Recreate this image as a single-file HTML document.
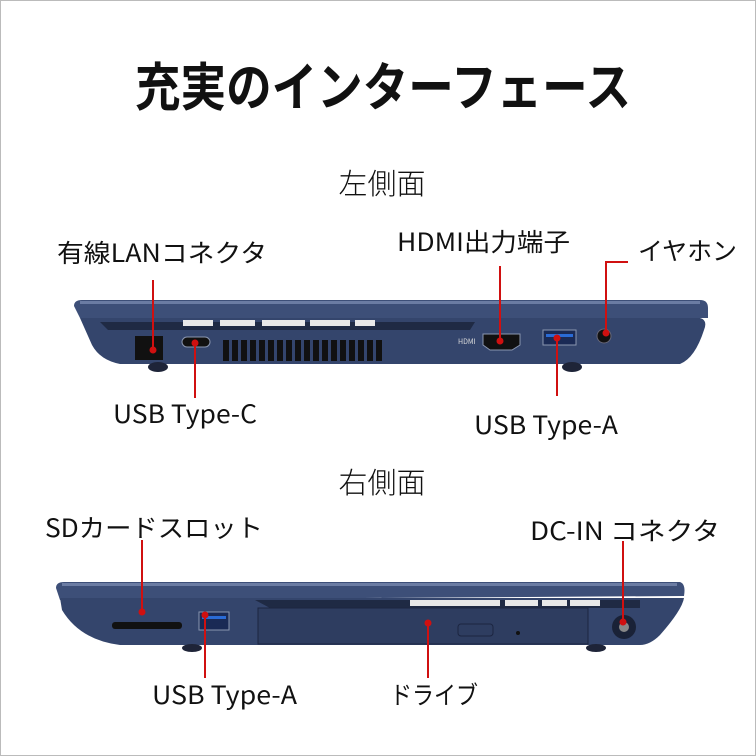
<!DOCTYPE html>
<html><head><meta charset="utf-8"><style>
html,body{margin:0;padding:0;background:#fff}
svg{display:block}
text{font-family:"Noto Sans CJK JP","Liberation Sans",sans-serif;fill:#111}
</style></head><body>
<svg width="756" height="756" viewBox="0 0 756 756" xmlns="http://www.w3.org/2000/svg">
<rect x="0.5" y="0.5" width="755" height="755" fill="#fff" stroke="#bbb"/>
<text x="383" y="106" font-size="52" font-weight="bold" text-anchor="middle" textLength="496" lengthAdjust="spacingAndGlyphs">充実のインターフェース</text>
<text x="382" y="194" font-size="29" text-anchor="middle" font-weight="300">左側面</text>
<text x="382" y="493" font-size="29" text-anchor="middle" font-weight="300">右側面</text>

<g font-size="25">
<text x="57" y="262" textLength="210" lengthAdjust="spacingAndGlyphs">有線LANコネクタ</text>
<text x="397" y="251" textLength="173" lengthAdjust="spacingAndGlyphs">HDMI出力端子</text>
<text x="638" y="260" textLength="99" lengthAdjust="spacingAndGlyphs">イヤホン</text>
<text x="113" y="423" textLength="144" lengthAdjust="spacingAndGlyphs">USB Type-C</text>
<text x="474" y="434" textLength="144" lengthAdjust="spacingAndGlyphs">USB Type-A</text>
<text x="45" y="537" textLength="218" lengthAdjust="spacingAndGlyphs">SDカードスロット</text>
<text x="530" y="540" textLength="190" lengthAdjust="spacingAndGlyphs">DC-IN コネクタ</text>
<text x="152" y="704" textLength="145" lengthAdjust="spacingAndGlyphs">USB Type-A</text>
<text x="390" y="704" textLength="88" lengthAdjust="spacingAndGlyphs">ドライブ</text>
</g>

<!-- top laptop -->
<g>
<path d="M74 306 Q74 300 82 300 L700 300 Q708 300 708 308 L708 318 L80 318 Z" fill="#3d4f78"/>
<rect x="80" y="301" width="620" height="3" fill="#6b7ca3"/>
<path d="M80 318 L700 318 Q708 320 704 330 Q695 358 680 364 L120 364 Q100 360 92 345 Z" fill="#34456c"/>
<path d="M100 322 L440 322 L475 322 L470 330 L108 330 Z" fill="#1f2a44"/>
<g fill="#e8e8e8"><rect x="183" y="320" width="30" height="6"/><rect x="220" y="320" width="35" height="6"/><rect x="262" y="320" width="43" height="6"/><rect x="310" y="320" width="40" height="6"/><rect x="355" y="320" width="20" height="6"/></g>
<ellipse cx="158" cy="367" rx="10" ry="5" fill="#1e2438"/>
<ellipse cx="572" cy="367" rx="10" ry="5" fill="#1e2438"/>
<rect x="135" y="336" width="28" height="24" fill="#111"/>
<rect x="182" y="337" width="28" height="10" rx="5" fill="#111" stroke="#8a96b0"/>
<g fill="#111">
<rect x="223" y="340" width="6" height="21"/><rect x="232" y="340" width="6" height="21"/><rect x="241" y="340" width="6" height="21"/><rect x="250" y="340" width="6" height="21"/><rect x="259" y="340" width="6" height="21"/><rect x="268" y="340" width="6" height="21"/><rect x="277" y="340" width="6" height="21"/><rect x="286" y="340" width="6" height="21"/><rect x="295" y="340" width="6" height="21"/><rect x="304" y="340" width="6" height="21"/><rect x="313" y="340" width="6" height="21"/><rect x="322" y="340" width="6" height="21"/><rect x="331" y="340" width="6" height="21"/><rect x="340" y="340" width="6" height="21"/><rect x="349" y="340" width="6" height="21"/><rect x="358" y="340" width="6" height="21"/><rect x="367" y="340" width="6" height="21"/><rect x="376" y="340" width="6" height="21"/>
</g>
<path d="M483 334 L520 334 L520 345 L512 350 L490 350 L483 345 Z" fill="#111" stroke="#8a96b0"/>
<text x="458" y="344" font-size="7" style="fill:#ddd">HDMI</text>
<rect x="543" y="330" width="33" height="15" fill="#1a2a55" stroke="#8a96b0"/>
<rect x="546" y="334" width="27" height="3" fill="#2a6bd6"/>
<circle cx="604" cy="336" r="7" fill="#111" stroke="#667"/>
</g>

<!-- bottom laptop -->
<g>
<path d="M56 588 Q56 582 64 582 L680 582 Q686 584 684 596 L60 600 Z" fill="#3d4f78"/>
<rect x="62" y="583" width="615" height="3" fill="#6b7ca3"/>
<path d="M60 598 L684 598 Q682 610 660 635 Q650 645 640 645 L120 645 Q80 640 62 610 Z" fill="#34456c"/>
<path d="M255 600 L640 600 L640 608 L270 608 Z" fill="#1f2a44"/>
<g fill="#e8e8e8"><rect x="410" y="600" width="90" height="6"/><rect x="505" y="600" width="33" height="6"/><rect x="542" y="600" width="25" height="6"/><rect x="570" y="600" width="30" height="6"/></g>
<rect x="258" y="608" width="330" height="36" fill="#2e3d60" stroke="#1c2540"/>
<rect x="458" y="624" width="35" height="12" rx="3" fill="#2e3d60" stroke="#1c2540"/>
<circle cx="518" cy="633" r="2" fill="#111"/>
<circle cx="624" cy="627" r="12" fill="#1a2237"/>
<circle cx="624" cy="627" r="5" fill="#888"/>
<rect x="112" y="622" width="70" height="7" rx="3" fill="#111"/>
<rect x="199" y="612" width="30" height="18" fill="#1a2a55" stroke="#8a96b0"/>
<rect x="202" y="616" width="24" height="3" fill="#2a6bd6"/>
<ellipse cx="192" cy="648" rx="10" ry="4" fill="#1e2438"/>
<ellipse cx="596" cy="648" rx="10" ry="4" fill="#1e2438"/>
</g>

<!-- red leaders -->
<g stroke="#d01010" stroke-width="2" fill="none">
<line x1="153" y1="280" x2="153" y2="350"/>
<line x1="195" y1="343" x2="195" y2="398"/>
<line x1="500" y1="266" x2="500" y2="340"/>
<line x1="557" y1="338" x2="557" y2="396"/>
<polyline points="628,262 606,262 606,333"/>
<line x1="142" y1="540" x2="142" y2="612"/>
<line x1="205" y1="615" x2="205" y2="678"/>
<line x1="428" y1="623" x2="428" y2="678"/>
<line x1="623" y1="541" x2="623" y2="622"/>
</g>
<g fill="#d01010">
<circle cx="153" cy="350" r="3.5"/><circle cx="195" cy="343" r="3.5"/><circle cx="500" cy="341" r="3.5"/><circle cx="557" cy="338" r="3.5"/><circle cx="606" cy="333" r="3.5"/>
<circle cx="142" cy="612" r="3.5"/><circle cx="205" cy="615" r="3.5"/><circle cx="428" cy="623" r="3.5"/><circle cx="623" cy="622" r="3.5"/>
</g>
</svg>
</body></html>
